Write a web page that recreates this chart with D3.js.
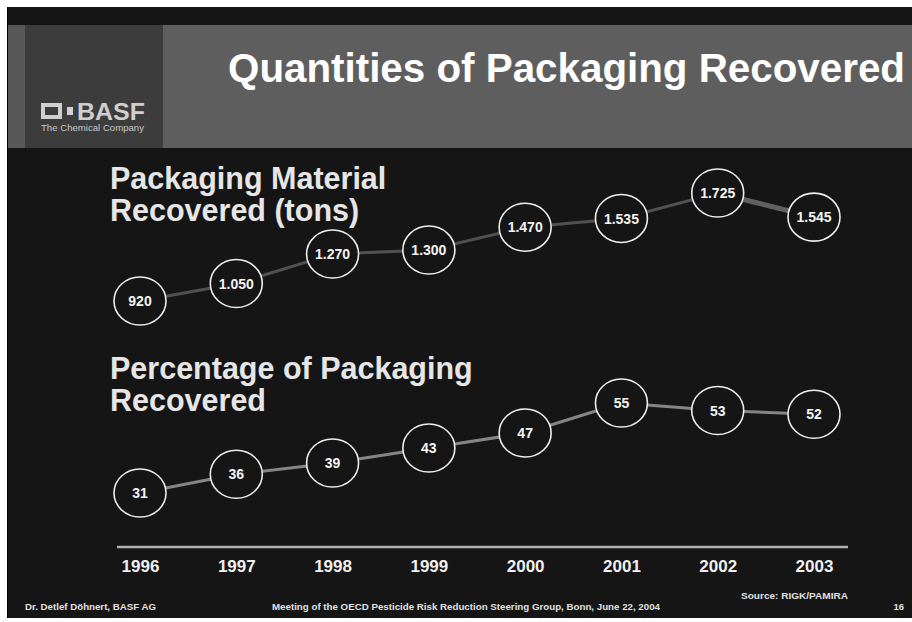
<!DOCTYPE html>
<html>
<head>
<meta charset="utf-8">
<script src="https://cdn.jsdelivr.net/npm/d3@7"></script>
<style>
  html, body { margin: 0; padding: 0; background: #ffffff; }
  svg { display: block; }
  text { font-family: "Liberation Sans", Arial, Helvetica, sans-serif; }
</style>
</head>
<body>
<svg id="chart" width="912" height="622"></svg>
<script>
// Years on the shared horizontal axis
const years = ["1996", "1997", "1998", "1999", "2000", "2001", "2002", "2003"];
// Packaging material recovered, tons
const tonsRecovered = [920, 1050, 1270, 1300, 1470, 1535, 1725, 1545];
// Share of packaging recovered, percent
const pctRecovered = [31, 36, 39, 43, 47, 55, 53, 52];

const titleText = "Quantities of Packaging Recovered";
const tonsHeading = ["Packaging Material", "Recovered (tons)"];
const pctHeading = ["Percentage of Packaging", "Recovered"];
const footerLeft = "Dr. Detlef Döhnert, BASF AG";
const footerCenter = "Meeting of the OECD Pesticide Risk Reduction Steering Group, Bonn, June 22, 2004";
const footerSource = "Source: RIGK/PAMIRA";
const pageNumber = "16";

// German number style: 1050 -> "1.050"
const deFormat = d3.formatLocale({ decimal: ",", thousands: ".", grouping: [3], currency: ["", " €"] }).format(",");

const svg = d3.select("#chart");

// Slide background
svg.append("rect").attr("x", 7).attr("y", 7).attr("width", 905).attr("height", 611).attr("fill", "#151515");
svg.append("rect").attr("x", 7).attr("y", 7).attr("width", 1).attr("height", 611).attr("fill", "#000");

// Header band
svg.append("rect").attr("x", 8).attr("y", 25).attr("width", 904).attr("height", 123).attr("fill", "#5e5e5e");
svg.append("rect").attr("x", 25).attr("y", 25).attr("width", 138).attr("height", 123).attr("fill", "#3c3c3c");
svg.append("rect").attr("x", 8).attr("y", 25).attr("width", 17).attr("height", 123).attr("fill", "#585858");

// BASF logo
const logo = svg.append("g").attr("fill", "#cfcfcf");
logo.append("rect").attr("x", 43).attr("y", 105).attr("width", 17).attr("height", 12)
  .attr("fill", "none").attr("stroke", "#cfcfcf").attr("stroke-width", 4);
logo.append("rect").attr("x", 67).attr("y", 107).attr("width", 6).attr("height", 8);
logo.append("text").attr("x", 77).attr("y", 119.5).attr("font-size", 23).attr("font-weight", "bold")
  .attr("textLength", 68).attr("lengthAdjust", "spacingAndGlyphs").text("BASF");
logo.append("text").attr("x", 41).attr("y", 131).attr("font-size", 8.5).attr("fill", "#c8c8c8")
  .attr("textLength", 103).attr("lengthAdjust", "spacingAndGlyphs").text("The Chemical Company");

// Title
svg.append("text").attr("x", 228).attr("y", 82).attr("font-size", 40).attr("font-weight", "bold")
  .attr("fill", "#ffffff").attr("textLength", 677).attr("lengthAdjust", "spacingAndGlyphs").text(titleText);

// Scales
const x = d3.scalePoint().domain(years).range([140, 814]);
const yTons = d3.scaleLinear().domain([920, 1725]).range([301, 193]);
const yPct = d3.scaleLinear().domain([31, 55]).range([493, 403]);

// Section headings
function heading(lines, baseline) {
  const t = svg.append("text").attr("x", 110).attr("y", baseline).attr("font-size", 30.5)
    .attr("font-weight", "bold").attr("fill", "#e6e6e6");
  lines.forEach((s, i) => t.append("tspan").attr("x", 110).attr("dy", i ? 32 : 0).text(s));
}
heading(tonsHeading, 189);
heading(pctHeading, 379);

// One series: connecting line and labelled ellipses
function series(values, y, lineColor, labelFmt, lastWide) {
  const pts = values.map((v, i) => [x(years[i]), y(v)]);
  svg.append("path").datum(pts).attr("d", d3.line()).attr("fill", "none")
    .attr("stroke", lineColor).attr("stroke-width", 3);
  if (lastWide) {
    const seg = pts.slice(-2);
    svg.append("path").datum(seg).attr("d", d3.line()).attr("fill", "none")
      .attr("stroke", "#606060").attr("stroke-width", 5);
  }
  const g = svg.append("g").selectAll("g").data(values).join("g")
    .attr("transform", (d, i) => `translate(${x(years[i])},${y(d)})`);
  g.append("ellipse").attr("rx", 26).attr("ry", 24).attr("fill", "#151515")
    .attr("stroke", "#eeeeee").attr("stroke-width", 1.6);
  g.append("text").attr("text-anchor", "middle").attr("dy", "0.36em")
    .attr("font-size", 14).attr("font-weight", "bold").attr("fill", "#f4f4f4")
    .text(d => labelFmt(d));
}
series(tonsRecovered, yTons, "#505050", deFormat, true);
series(pctRecovered, yPct, "#858585", d => String(d), false);

// Year axis
svg.append("line").attr("x1", 117).attr("x2", 848).attr("y1", 547).attr("y2", 547)
  .attr("stroke", "#b0b0b0").attr("stroke-width", 2.5);
const axis = svg.append("g").attr("transform", "translate(0,560)")
  .call(d3.axisBottom(x).tickSize(0).tickPadding(0));
axis.select(".domain").remove();
axis.selectAll("text").attr("font-size", 17).attr("font-weight", "bold").attr("fill", "#f0f0f0")
  .attr("font-family", "'Liberation Sans', Arial, sans-serif").attr("dy", "0.71em");

// Footer
const foot = { "font-family": "'Liberation Sans Narrow', 'Arial Narrow', 'Liberation Sans', sans-serif", "font-weight": "bold", "fill": "#e0e0e0" };
function footText(xp, yp, anchor, size, s, len) {
  const t = svg.append("text").attr("x", xp).attr("y", yp).attr("text-anchor", anchor).attr("font-size", size).text(s);
  Object.entries(foot).forEach(([k, v]) => t.attr(k, v));
  if (len) t.attr("textLength", len).attr("lengthAdjust", "spacingAndGlyphs");
}
footText(25, 610, "start", 9.5, footerLeft, 131);
footText(272, 610, "start", 9.5, footerCenter, 388);
footText(848, 599, "end", 9.5, footerSource, 107);
footText(904, 610, "end", 9.5, pageNumber);
</script>
</body>
</html>
